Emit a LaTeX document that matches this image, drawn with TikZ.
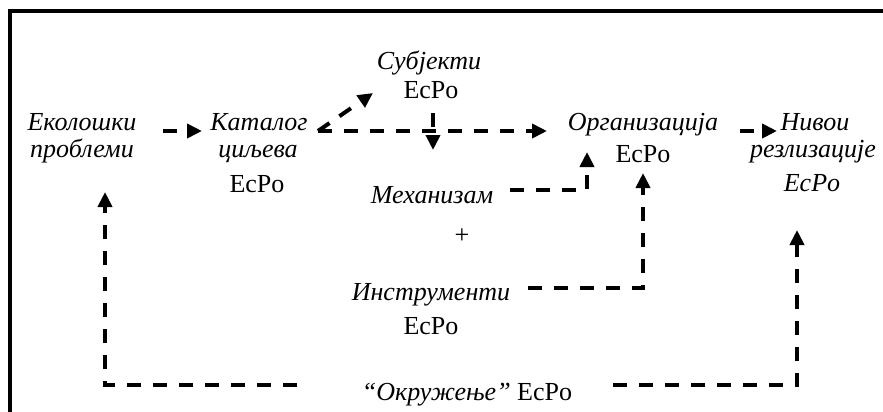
\documentclass[tikz,border=0pt]{standalone}
\usepackage{fontspec}
\setmainfont{Liberation Serif}
\usetikzlibrary{arrows.meta,calc}
\begin{document}
\begin{tikzpicture}[x=1pt,y=-1pt,
  lbl/.style={inner sep=0pt, anchor=base, font=\fontsize{26}{30}\selectfont},
  ilbl/.style={inner sep=0pt, anchor=base, font=\fontsize{26}{30}\selectfont\itshape},
  dl/.style={line width=4pt, dash pattern=on 14pt off 12pt},
  arr/.style={dl, -{Triangle[length=15pt,width=14pt]}}]
\useasboundingbox (0,0) rectangle (883,412);
\clip (0,0) rectangle (883,412);
\fill[white] (0,0) rectangle (883,412);
\draw[line width=4pt] (10,11) rectangle (900,430);
% texts
\node[ilbl] (eko1) at (82,130) {Еколошки};
\node[ilbl] (eko2) at (82,157) {проблеми};
\node[ilbl] (kat1) at (259,130) {Каталог};
\node[ilbl] (kat2) at (258,157) {циљева};
\node[lbl]  (kat3) at (257,192) {EcPo};
\node[ilbl] (sub1) at (429,70) {Субјекти};
\node[lbl]  (sub2) at (431,98) {EcPo};
\node[ilbl] (org1) at (643,130) {Организација};
\node[lbl]  (org2) at (643,162) {EcPo};
\node[ilbl] (niv1) at (815,130) {Нивои};
\node[ilbl] (niv2) at (813,157) {резлизације};
\node[ilbl] (niv3) at (812,191) {EcPo};
\node[ilbl] (meh) at (432,203) {Механизам};
\node[lbl]  (plus) at (462,243) {+};
\node[ilbl] (ins1) at (431,300) {Инструменти};
\node[lbl]  (ins2) at (431,334) {EcPo};
\node[lbl]  (okr) at (467,400) {\textit{“Окружење”} EcPo};
% connector end points
\coordinate (a1s) at (163,131); \coordinate (a1e) at (202,131);
\coordinate (a2s) at (318,131); \coordinate (a2e) at (547,131);
\coordinate (a3e) at (373,93);
\coordinate (a4s) at (433,113); \coordinate (a4e) at (433,150);
\coordinate (a5s) at (510,190); \coordinate (a5c) at (587,190); \coordinate (a5e) at (587,152);
\coordinate (a6s) at (528,288); \coordinate (a6c) at (643,288); \coordinate (a6e) at (643,173);
\coordinate (a7s) at (740,131); \coordinate (a7e) at (777,131);
\coordinate (a8s) at (297,385); \coordinate (a8c) at (105,385); \coordinate (a8e) at (105,192);
\coordinate (a9s) at (613,385); \coordinate (a9c) at (797,385); \coordinate (a9e) at (797,230);
% connectors
\draw[arr] (a1s) -- (a1e);
\draw[arr] (a2s) -- (a2e);
\draw[arr] (a2s) -- (a3e);
\draw[arr] (a4s) -- (a4e);
\draw[arr] (a5s) -- (a5c) -- (a5e);
\draw[arr] (a6s) -- (a6c) -- (a6e);
\draw[arr] (a7s) -- (a7e);
\draw[arr] (a8s) -- (a8c) -- (a8e);
\draw[arr] (a9s) -- (a9c) -- (a9e);
\end{tikzpicture}
\end{document}
